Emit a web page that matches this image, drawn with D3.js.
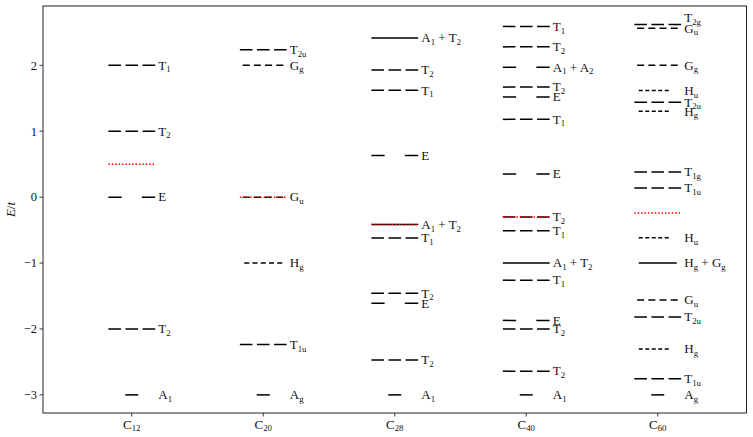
<!DOCTYPE html>
<html><head><meta charset="utf-8">
<script src="https://cdn.jsdelivr.net/npm/d3@7"></script>
<style>
body{margin:0;background:#fff}
svg{display:block}
text{font-family:"Liberation Serif","DejaVu Serif",serif;fill:#111}
</style>
</head><body><svg id="chart" width="753" height="437"></svg>
<script>
// ---------- data ----------
const molecules = ["C12", "C20", "C28", "C40", "C60"];
const yTicks = [-3, -2, -1, 0, 1, 2];

const c12Energies = [2, 1, 0, -2, -3];
const c12Irreps   = ["T1", "T2", "E", "T2", "A1"];

const c20Energies = [2.236, 2, 0, -1, -2.236, -3];
const c20Irreps   = ["T2u", "Gg", "Gu", "Hg", "T1u", "Ag"];

const c28Energies = [2.414, 1.93, 1.62, 0.63, -0.414, -0.62, -1.46, -1.61, -2.47, -3];
const c28Irreps   = ["A1+T2", "T2", "T1", "E", "A1+T2", "T1", "T2", "E", "T2", "A1"];

const c40Energies = [2.59, 2.28, 1.97, 1.67, 1.52, 1.18, 0.35, -0.30, -0.51, -1, -1.26, -1.87, -2, -2.64, -3];
const c40Irreps   = ["T1", "T2", "A1+A2", "T2", "E", "T1", "E", "T2", "T1", "A1+T2", "T1", "E", "T2", "T2", "A1"];

const c60Energies = [2.618, 2.562, 2, 1.618, 1.438, 1.303, 0.382, 0.139, -0.618, -1, -1.562, -1.820, -2.303, -2.757, -3];
const c60Irreps   = ["T2g", "Gu", "Gg", "Hu", "T2u", "Hg", "T1g", "T1u", "Hu", "Hg+Gg", "Gu", "T2u", "Hg", "T1u", "Ag"];

const fermiLevels = [0.5, 0, -0.414, -0.30, -0.24];

const allEnergies = [c12Energies, c20Energies, c28Energies, c40Energies, c60Energies];
const allIrreps   = [c12Irreps, c20Irreps, c28Irreps, c40Irreps, c60Irreps];

// ---------- layout ----------
const plot = {left: 43, right: 746.5, top: 6, bottom: 413};
const svg = d3.select("#chart");

const x = d3.scaleLinear().domain([-0.675, 4.675]).range([plot.left, plot.right]);
const y = d3.scaleLinear().domain([-3.275, 2.9]).range([plot.bottom, plot.top]);

const DEG = {A: 1, B: 1, E: 2, T: 3, G: 4, H: 5};
const STYLE = {
  1: {x0: -6.5, x1: 6.5, dash: null},
  2: {x0: -23.4, x1: 23.4, dash: "13.3,20.2"},
  3: {x0: -23.4, x1: 23.4, dash: "12.6,4.5"},
  4: {x0: -20.6, x1: 20.6, dash: "7,4.2"},
  5: {x0: -19, x1: 19, dash: "5,3.25"}
};
const STYLE_C60_H = {x0: -19, x1: 11, dash: "4,2.5"};

function styleFor(terms, col) {
  const degs = terms.map(t => DEG[t[0]]);
  const total = d3.sum(degs);
  if (terms.length > 1) {
    if (total === 2) return STYLE[2];
    const s = STYLE[d3.max(degs)];
    return {x0: s.x0, x1: s.x1, dash: null};
  }
  if (degs[0] === 5 && molecules[col] === "C60") return STYLE_C60_H;
  return STYLE[degs[0]];
}

// frame
svg.append("rect")
  .attr("x", plot.left).attr("y", plot.top)
  .attr("width", plot.right - plot.left).attr("height", plot.bottom - plot.top)
  .attr("fill", "none").attr("stroke", "#222").attr("stroke-width", 1);

// y axis ticks
const yg = svg.append("g");
yTicks.forEach(t => {
  yg.append("line").attr("x1", plot.left - 3.5).attr("x2", plot.left)
    .attr("y1", y(t)).attr("y2", y(t)).attr("stroke", "#222").attr("stroke-width", 0.9);
  yg.append("text").attr("x", plot.left - 6).attr("y", y(t) + 4.3)
    .attr("text-anchor", "end").attr("font-size", 12.5)
    .text(t < 0 ? "\u2212" + Math.abs(t) : String(t));
});

// y label
const yl = svg.append("text")
  .attr("transform", `translate(${15},${(plot.top + plot.bottom) / 2}) rotate(-90)`)
  .attr("text-anchor", "middle").attr("font-size", 13);
yl.append("tspan").attr("font-style", "italic").text("E");
yl.append("tspan").text("/");
yl.append("tspan").attr("font-style", "italic").text("t");

// x axis ticks
molecules.forEach((m, i) => {
  svg.append("line").attr("x1", x(i)).attr("x2", x(i))
    .attr("y1", plot.bottom).attr("y2", plot.bottom + 3.5)
    .attr("stroke", "#222").attr("stroke-width", 0.9);
  const t = svg.append("text").attr("x", x(i)).attr("y", plot.bottom + 15.5)
    .attr("text-anchor", "middle").attr("font-size", 13);
  t.append("tspan").text(m[0]);
  t.append("tspan").attr("font-size", 8.8).attr("dy", 2.8).text(m.slice(1));
});

// labels helper
function writeLabel(sel, terms) {
  terms.forEach((term, k) => {
    if (k > 0) sel.append("tspan").attr("dy", -2.8).text(" + ");
    sel.append("tspan").text(term[0]);
    sel.append("tspan").attr("font-size", 8.8).attr("dy", 2.8).text(term.slice(1));
  });
}

// levels
const levelsG = svg.append("g");
allEnergies.forEach((energies, col) => {
  const irreps = allIrreps[col];
  const cx = x(col);
  energies.forEach((e, j) => {
    const terms = irreps[j].split("+");
    const s = styleFor(terms, col);
    levelsG.append("line")
      .attr("x1", cx + s.x0).attr("x2", cx + s.x1)
      .attr("y1", y(e)).attr("y2", y(e))
      .attr("stroke", "#000").attr("stroke-width", 1.5)
      .attr("stroke-dasharray", s.dash);
    const close = energies.some(o => o < e && e - o < 0.1);
    const lbl = levelsG.append("text")
      .attr("x", cx + 26.5).attr("y", y(e) + 4.3 - (close ? 7 : 0))
      .attr("font-size", 13).attr("xml:space", "preserve");
    writeLabel(lbl, terms);
  });
});

// Fermi levels
fermiLevels.forEach((f, col) => {
  svg.append("line")
    .attr("x1", x(col) - 23.4).attr("x2", x(col) + 23.4)
    .attr("y1", y(f)).attr("y2", y(f))
    .attr("stroke", "red").attr("stroke-width", 1.5)
    .attr("stroke-dasharray", "1.5,1.9");
});
</script>
</body></html>
